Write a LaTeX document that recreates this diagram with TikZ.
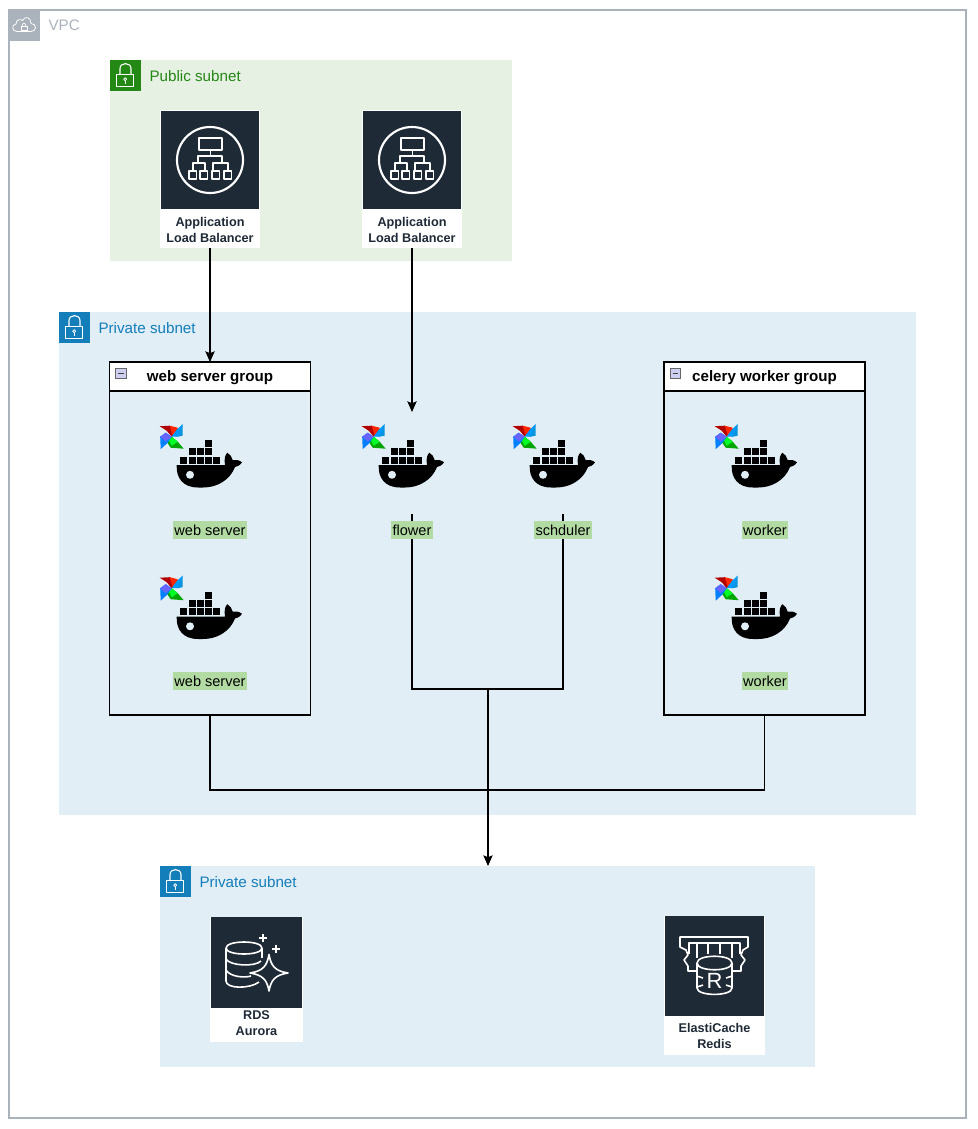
\documentclass[tikz,border=0pt]{standalone}
\usepackage{fontspec}
\setmainfont{Liberation Sans}
\usetikzlibrary{arrows.meta}
\definecolor{vpcgray}{HTML}{AAB3BC}
\definecolor{pubgreen}{HTML}{248814}
\definecolor{pubfill}{HTML}{E6F0E3}
\definecolor{privblue}{HTML}{147EBA}
\definecolor{privfill}{HTML}{E1EEF6}
\definecolor{awsdark}{HTML}{1F2A37}
\definecolor{hl}{HTML}{B2DBA4}
\def\px{0.75pt}
\tikzset{
  x=0.75pt,y=-0.75pt,
  box/.style={rectangle,inner sep=0pt,outer sep=0pt,draw=none},
  subnetarea/.style={box,anchor=north west},
  badge/.style={box,anchor=north west,minimum width=31*\px,minimum height=31*\px},
  badgetext/.style={box,anchor=west,text height=8pt,text depth=1pt,font=\fontsize{11.4pt}{13pt}\selectfont},
  groupbox/.style={box,anchor=north west,draw=black,line width=1.05*\px,minimum width=201*\px,minimum height=353*\px},
  grouphead/.style={box,anchor=north west,draw=black,fill=white,line width=1.05*\px,minimum width=201*\px,minimum height=29*\px,text height=8pt,text depth=0pt,font=\fontsize{11.35pt}{13pt}\selectfont\bfseries},
  hltext/.style={box,fill=hl,text=black,minimum height=18.5*\px,inner xsep=1.5*\px,text height=8.4pt,text depth=0pt,font=\fontsize{10.9pt}{13pt}\selectfont},
  card/.style={box,anchor=north west,fill=white},
  tile/.style={box,anchor=north west,fill=awsdark},
  cardtext/.style={box,align=center,text=awsdark,font=\fontsize{9.5pt}{12pt}\selectfont\bfseries},
  anchorbox/.style={box,minimum width=100*\px,minimum height=102*\px},
  conn/.style={draw=black,line width=1.05*\px},
  arr/.style={conn,-{Stealth[length=8pt,width=7pt,inset=1.4pt]}},
  ico/.style={draw=white,line width=1.2pt,fill=none,line join=round},
  icothin/.style={draw=white,line width=0.8pt,fill=none,line join=round},
  pics/lockmark/.style={code={
    \draw[icothin] (-8.3,-0.5) rectangle (8.7,11.2);
    \draw[icothin] (-5,-0.5) -- (-5,-6.5) .. controls (-5,-13) and (6,-13) .. (6,-6.5) -- (6,-0.5);
    \draw[icothin,line width=0.6pt] (0.2,4.2) circle (1.5);
    \draw[icothin,line width=0.6pt] (0.2,5.7) -- (0.2,8.5);
  }},
  pics/dockicon/.style={code={
    % whale
    \fill[black] (-33.3,26) -- (15,26) .. controls (14,20) and (15,16) .. (17.3,13.7)
      .. controls (20,15) and (22,18) .. (22.7,21) .. controls (26,20.5) and (29,21) .. (32,23.3)
      .. controls (30,26.5) and (27,27.7) .. (25,28)
      .. controls (20,41) and (7,48.5) .. (-6.7,48.5) -- (-12,48.5) .. controls (-27,48.5) and (-34,39) .. cycle;
    \fill[hlwhite] (-20,35.8) circle (4);
    \foreach \i in {0,...,4} \fill[black] ({-29.6+8.2*\i},17.6) rectangle +(6.9,7);
    \foreach \i in {0,...,2} \fill[black] ({-21.4+8.2*\i},9.4) rectangle +(6.9,7);
    \fill[black] (-5,1.2) rectangle +(6.9,7);
    % pinwheel
    \begin{scope}[shift={(-38.3,-2.3)}]
      \fill[red!70!black] (-12,-10.5) -- (-2,-11) -- (6,-5) -- (0,0) -- (-5,-6) -- cycle;
      \fill[orange!30!red] (-2,-11) -- (6,-9) -- (6,-4) -- (1,-1) -- cycle;
      \fill[cyan!80!blue] (11,-12.5) -- (11,-1) -- (6,0) -- (1,-1) -- (5,-7) -- cycle;
      \fill[blue!40!cyan] (11,-12.5) -- (2,-3) -- (0,0) -- (6,0) -- cycle;
      \fill[green!65!black] (12,12) -- (-1,11) -- (-5,5) -- (0,0) -- (6,5) -- cycle;
      \fill[green!85!cyan] (6,5) -- (0,0) -- (-3,3) -- (0,9) -- cycle;
      \fill[blue!50!cyan] (-11,12.5) -- (-11.5,0) -- (-6,-4) -- (0,0) -- (-4,6) -- cycle;
      \fill[blue!60!white] (-11.5,0) -- (-6,-4) -- (0,0) -- (-6,5) -- cycle;
    \end{scope}
  }},
  pics/albicon/.style={code={
    \draw[ico,line width=1.6pt] (0,0) circle (33);
    \draw[ico] (-11,-22) rectangle (12,-10);
    \draw[ico,line width=1pt] (0.5,-10) -- (0.5,-4) (-12,3) -- (-12,-4) -- (12,-4) -- (12,3)
      (-17,11) -- (-17,3) -- (-5,3) -- (-5,11) (3,11) -- (3,3) -- (18,3) -- (18,11);
    \foreach \x in {-21,-10,2,14} \draw[ico,line width=1.2pt] (\x,11) rectangle +(7.6,8);
  }}
}
\colorlet{hlwhite}{privfill}
\begin{document}
\begin{tikzpicture}
\useasboundingbox (0,0) rectangle (978,1129);
\fill[white] (0,0) rectangle (978,1129);

% VPC
\node[box,anchor=north west,draw=vpcgray,line width=1.1pt,minimum width=957*\px,minimum height=1108*\px] (vpc) at (9,10) {};
\node[badge,fill=vpcgray] (vpcbadge) at (9,10) {};
\draw[icothin,line width=0.6pt] (17,31.5) .. controls (11.5,31.5) and (11.5,24.5) .. (16,24) .. controls (16,19) and (21,19) .. (22.5,20.5) .. controls (25,15.5) and (31,17) .. (31,23.5) .. controls (37,23.5) and (37,31.5) .. (31,31.5) -- cycle;
\draw[icothin,line width=0.5pt] (21,26) rectangle (27,30);
\draw[icothin,line width=0.5pt] (22,26) .. controls (22,22.5) and (26,22.5) .. (26,26);
\node[badgetext,text=vpcgray] (vpctext) at (48.5,26) {VPC};

% Public subnet
\node[subnetarea,fill=pubfill,minimum width=402.5*\px,minimum height=201*\px] (pub) at (109.5,60) {};
\node[badge,fill=pubgreen] (pubbadge) at (109.5,60) {};
\pic at (125,75) {lockmark};
\node[badgetext,text=pubgreen] (pubtext) at (149.5,76.5) {Public subnet};

% Private subnet 1
\node[subnetarea,fill=privfill,minimum width=857*\px,minimum height=503*\px] (priv1) at (59,312) {};
\node[badge,fill=privblue] (priv1badge) at (59,312) {};
\pic at (74,327) {lockmark};
\node[badgetext,text=privblue] (priv1text) at (98.5,328.5) {Private subnet};

% Private subnet 2
\node[subnetarea,fill=privfill,minimum width=655*\px,minimum height=201*\px] (priv2) at (160,866) {};
\node[badge,fill=privblue] (priv2badge) at (160,866) {};
\pic at (175,881) {lockmark};
\node[badgetext,text=privblue] (priv2text) at (199.5,882.5) {Private subnet};

% Load balancers
\node[card,minimum width=100*\px,minimum height=138*\px] (alb1) at (160,110) {};
\node[tile,minimum width=98*\px,minimum height=98*\px] (alb1tile) at (161,111) {};
\pic at (210,160) {albicon};
\node[cardtext] (alb1text) at (210,230) {Application\\Load Balancer};
\node[card,minimum width=100*\px,minimum height=138*\px] (alb2) at (362,110) {};
\node[tile,minimum width=98*\px,minimum height=98*\px] (alb2tile) at (363,111) {};
\pic at (412,160) {albicon};
\node[cardtext] (alb2text) at (412,230) {Application\\Load Balancer};

% Groups
\node[groupbox] (wsg) at (109.5,362) {};
\node[grouphead] (wsghead) at (109.5,362) {web server group};
\node[groupbox] (cwg) at (664,362) {};
\node[grouphead] (cwghead) at (664,362) {celery worker group};
\foreach \x in {115.5,670}{
  \fill[gray!45!blue!25!white] (\x,368.5) rectangle +(10.5,10);
  \draw[gray!80!black,line width=0.5pt] (\x,368.5) rectangle +(10.5,10);
  \draw[black!75,line width=0.9pt] (\x+2.5,373.5) -- +(5.5,0);
}

% Container icons
\foreach \x in {210,412,563,765} \pic at (\x,439) {dockicon};
\foreach \x in {210,765} \pic at (\x,590.5) {dockicon};
\node[anchorbox] (flowerimg) at (412,463) {};
\node[anchorbox] (schimg) at (563,463) {};

% Junctions
\coordinate (j1) at (488,689);
\coordinate (j2) at (488,790);

% Connectors
\draw[arr] (alb1.south) -- (wsg.north);
\draw[arr] (alb2.south) -- (flowerimg.north);
\draw[conn] (flowerimg.south) -- (flowerimg.south |- j1) -- (schimg.south |- j1) -- (schimg.south);
\draw[conn] (wsg.south) -- (wsg.south |- j2) -- (cwg.south |- j2) -- (cwg.south);
\draw[arr] (j1) -- (priv2.north -| j1);

% Container labels
\node[hltext] (l1) at (210,530) {web server};
\node[hltext] (l2) at (210,681) {web server};
\node[hltext] (l3) at (412,530) {flower};
\node[hltext] (l4) at (563,530) {schduler};
\node[hltext] (l5) at (765,530) {worker};
\node[hltext] (l6) at (765,681) {worker};

% RDS Aurora
\node[card,minimum width=93*\px,minimum height=125*\px] (rds) at (210,917) {};
\node[tile,minimum width=91*\px,minimum height=91*\px] (rdstile) at (211,917) {};
\draw[ico] (226,948) .. controls (226,940) and (262,940) .. (262,948) .. controls (262,956) and (226,956) .. cycle;
\draw[ico] (226,948) -- (226,981) .. controls (226,989) and (250,989) .. (259,982);
\draw[ico] (262,948) -- (262,958);
\draw[ico] (226,959) .. controls (230,966) and (255,967) .. (261,961);
\draw[ico] (226,970) .. controls (230,977) and (245,978) .. (251,976);
\draw[ico] (269,954.5) .. controls (271,966) and (275,971) .. (288,973) .. controls (275,975) and (271,980) .. (269,991) .. controls (267,980) and (263,975) .. (250,973) .. controls (263,971) and (267,966) .. cycle;
\draw[ico,line width=1.4pt] (262.7,934) -- (262.7,941.5) (259,937.7) -- (266.5,937.7);
\draw[ico,line width=1.4pt] (276,945) -- (276,952.5) (272.2,948.7) -- (279.8,948.7);
\node[cardtext] (rdstext) at (256.5,1023.5) {RDS\\Aurora};

% ElastiCache Redis
\node[card,minimum width=101*\px,minimum height=139*\px] (ec) at (664,916) {};
\node[tile,minimum width=99*\px,minimum height=100*\px] (ectile) at (665,916) {};
\draw[ico] (696,971) -- (688,971) -- (688,966) -- (684,960) -- (688,955) -- (686,950) -- (680,947) -- (680,937) -- (748,937) -- (748,947) -- (743,950) -- (741,955) -- (745,960) -- (741,966) -- (741,971) -- (733,971);
\draw[ico,line width=1pt] (689,954) -- (689,943) -- (697,943) -- (697,958) (697,943) -- (708,943) -- (708,954) (708,943) -- (720,943) -- (720,954) (720,943) -- (732,943) -- (732,958) (732,943) -- (740,943) -- (740,954);
\draw[ico] (697,963) .. controls (697,954) and (732,954) .. (732,963) .. controls (732,972) and (697,972) .. cycle;
\draw[ico] (697,963) -- (697,988) .. controls (697,996.5) and (732,996.5) .. (732,988) -- (732,963);
\draw[ico] (697,976) -- (703,978) (732,976) -- (726,978) (697,987) -- (703,985) (732,987) -- (726,985);
\node[box,text=white,font=\fontsize{16.5pt}{16.5pt}\selectfont] (ecr) at (714.5,981) {R};
\node[cardtext] (ectext) at (714.5,1035.5) {ElastiCache\\Redis};
\end{tikzpicture}
\end{document}
